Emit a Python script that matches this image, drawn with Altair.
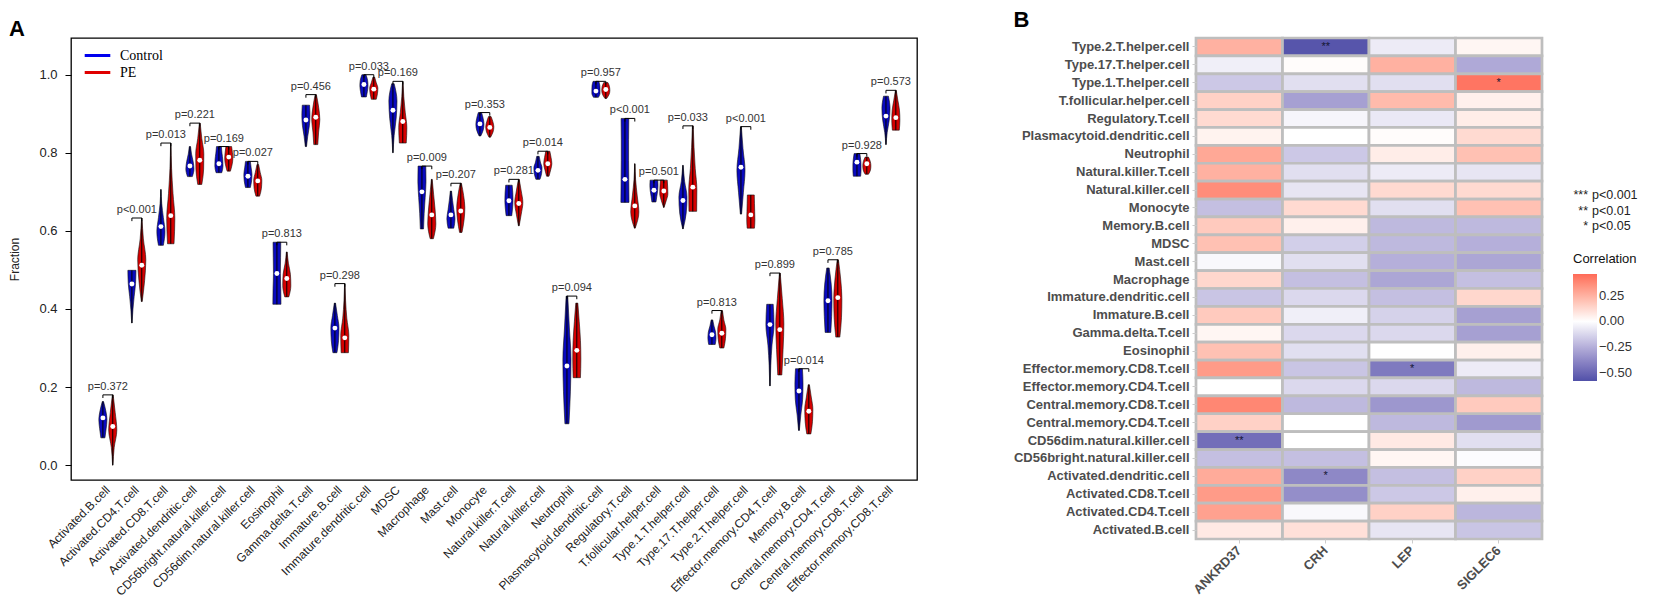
import altair as alt
import pandas as pd

# ---------------- Panel A data ----------------
cell_types = [
    "Activated.B.cell", "Activated.CD4.T.cell", "Activated.CD8.T.cell", "Activated.dendritic.cell",
    "CD56bright.natural.killer.cell", "CD56dim.natural.killer.cell", "Eosinophil", "Gamma.delta.T.cell",
    "Immature.B.cell", "Immature.dendritic.cell", "MDSC", "Macrophage", "Mast.cell", "Monocyte",
    "Natural.killer.T.cell", "Natural.killer.cell", "Neutrophil", "Plasmacytoid.dendritic.cell",
    "Regulatory.T.cell", "T.follicular.helper.cell", "Type.1.T.helper.cell", "Type.17.T.helper.cell",
    "Type.2.T.helper.cell", "Effector.memory.CD4.T.cell", "Memory.B.cell", "Central.memory.CD4.T.cell",
    "Central.memory.CD8.T.cell", "Effector.memory.CD8.T.cell",
]
groups = ["Control", "PE"]

ctrl_lo = [0.070, 0.364, 0.563, 0.739, 0.749, 0.711, 0.412, 0.816, 0.288, 0.943, 0.800, 0.605, 0.607, 0.843,
           0.639, 0.732, 0.106, 0.942, 0.673, 0.674, 0.605, 0.309, 0.643, 0.203, 0.089, 0.340, 0.740, 0.821]
ctrl_hi = [0.163, 0.499, 0.706, 0.816, 0.816, 0.778, 0.571, 0.922, 0.415, 1.000, 0.977, 0.766, 0.702, 0.903,
           0.717, 0.791, 0.433, 0.983, 0.888, 0.730, 0.768, 0.372, 0.867, 0.412, 0.247, 0.505, 0.798, 0.945]
ctrl_med = [0.121, 0.464, 0.611, 0.766, 0.772, 0.740, 0.491, 0.884, 0.351, 0.975, 0.909, 0.700, 0.641, 0.874,
            0.677, 0.755, 0.254, 0.958, 0.732, 0.704, 0.678, 0.334, 0.763, 0.360, 0.190, 0.421, 0.776, 0.894]
pe_lo = [0.000, 0.419, 0.567, 0.719, 0.753, 0.689, 0.431, 0.821, 0.288, 0.937, 0.825, 0.580, 0.596, 0.840,
         0.613, 0.740, 0.224, 0.939, 0.607, 0.660, 0.650, 0.300, 0.607, 0.231, 0.080, 0.328, 0.745, 0.858]
pe_hi = [0.180, 0.633, 0.825, 0.876, 0.816, 0.770, 0.546, 0.949, 0.465, 0.994, 0.983, 0.732, 0.722, 0.893,
         0.732, 0.804, 0.415, 0.980, 0.772, 0.730, 0.869, 0.396, 0.692, 0.492, 0.206, 0.526, 0.789, 0.960]
pe_med = [0.099, 0.512, 0.639, 0.781, 0.789, 0.728, 0.478, 0.891, 0.326, 0.963, 0.880, 0.641, 0.651, 0.865,
          0.670, 0.772, 0.294, 0.962, 0.664, 0.702, 0.712, 0.338, 0.641, 0.347, 0.138, 0.429, 0.772, 0.890]

# relative violin width at 0%, 25%, 50%, 75%, 100% of each violin's range
ctrl_shape = [
    [0.5, 0.8, 1.0, 0.7, 0.15], [0.05, 0.25, 0.55, 0.9, 1.0], [0.6, 1.0, 0.6, 0.2, 0.05], [0.6, 1.0, 0.8, 0.4, 0.15],
    [0.7, 1.0, 0.95, 0.75, 0.6], [0.6, 0.9, 1.0, 0.8, 0.6], [1.0, 0.95, 0.85, 0.9, 0.95], [0.15, 0.45, 0.85, 1.0, 0.9],
    [0.5, 0.9, 1.0, 0.6, 0.15], [0.6, 0.85, 1.0, 0.9, 0.5], [0.05, 0.3, 0.8, 1.0, 0.3], [0.4, 0.55, 0.8, 1.0, 0.95],
    [0.7, 1.0, 0.7, 0.4, 0.15], [0.2, 0.8, 1.0, 0.8, 0.4], [0.7, 0.9, 1.0, 0.95, 0.8], [0.5, 0.9, 1.0, 0.6, 0.3],
    [0.5, 0.85, 1.0, 0.6, 0.2], [0.6, 1.0, 1.0, 0.95, 0.7], [1.0, 0.95, 0.9, 0.9, 0.95], [0.5, 0.7, 0.9, 1.0, 0.95],
    [0.05, 0.8, 1.0, 0.4, 0.05], [0.8, 1.0, 0.9, 0.5, 0.2], [0.15, 0.6, 1.0, 0.5, 0.1], [0.05, 0.2, 0.5, 1.0, 0.8],
    [0.1, 0.45, 0.9, 1.0, 0.85], [0.7, 0.9, 1.0, 0.8, 0.3], [0.9, 1.0, 1.0, 0.9, 0.7], [0.05, 0.3, 0.8, 1.0, 0.6],
]
pe_shape = [
    [0.05, 0.35, 1.0, 0.6, 0.1], [0.1, 0.7, 1.0, 0.4, 0.05], [0.8, 1.0, 0.55, 0.2, 0.05], [0.5, 0.95, 1.0, 0.5, 0.1],
    [0.4, 0.8, 1.0, 0.9, 0.7], [0.45, 0.9, 1.0, 0.6, 0.2], [0.5, 1.0, 0.9, 0.4, 0.1], [0.5, 0.7, 1.0, 0.7, 0.15],
    [0.9, 1.0, 0.5, 0.2, 0.05], [0.6, 0.9, 1.0, 0.6, 0.2], [0.85, 1.0, 0.6, 0.25, 0.05], [0.4, 1.0, 0.8, 0.45, 0.1],
    [0.3, 0.8, 1.0, 0.7, 0.15], [0.2, 0.8, 1.0, 0.75, 0.3], [0.1, 0.6, 1.0, 0.6, 0.1], [0.3, 0.7, 1.0, 0.8, 0.5],
    [0.9, 1.0, 0.9, 0.6, 0.25], [0.2, 0.8, 1.0, 0.9, 0.5], [0.1, 1.0, 0.6, 0.2, 0.05], [0.05, 0.6, 1.0, 0.95, 0.85],
    [0.95, 1.0, 0.6, 0.3, 0.1], [0.5, 0.9, 1.0, 0.5, 0.15], [0.9, 1.0, 0.95, 0.9, 0.85], [0.5, 0.8, 1.0, 0.6, 0.1],
    [0.5, 0.9, 1.0, 0.6, 0.15], [0.5, 0.9, 1.0, 0.7, 0.15], [0.4, 0.9, 1.0, 0.85, 0.4], [0.85, 1.0, 0.9, 0.5, 0.1],
]
pvals = ["p=0.372", "p<0.001", "p=0.013", "p=0.221", "p=0.169", "p=0.027", "p=0.813", "p=0.456", "p=0.298",
         "p=0.033", "p=0.169", "p=0.009", "p=0.207", "p=0.353", "p=0.281", "p=0.014", "p=0.094", "p=0.957",
         "p<0.001", "p=0.501", "p=0.033", "p=0.813", "p<0.001", "p=0.899", "p=0.014", "p=0.785", "p=0.928",
         "p=0.573"]

# ---------------- Panel B data ----------------
heat_rows = [
    "Type.2.T.helper.cell", "Type.17.T.helper.cell", "Type.1.T.helper.cell", "T.follicular.helper.cell",
    "Regulatory.T.cell", "Plasmacytoid.dendritic.cell", "Neutrophil", "Natural.killer.T.cell",
    "Natural.killer.cell", "Monocyte", "Memory.B.cell", "MDSC", "Mast.cell", "Macrophage",
    "Immature.dendritic.cell", "Immature.B.cell", "Gamma.delta.T.cell", "Eosinophil",
    "Effector.memory.CD8.T.cell", "Effector.memory.CD4.T.cell", "Central.memory.CD8.T.cell",
    "Central.memory.CD4.T.cell", "CD56dim.natural.killer.cell", "CD56bright.natural.killer.cell",
    "Activated.dendritic.cell", "Activated.CD8.T.cell", "Activated.CD4.T.cell", "Activated.B.cell",
]
genes = ["ANKRD37", "CRH", "LEP", "SIGLEC6"]
r_ANKRD37 = [0.25, -0.05, -0.17, 0.15, 0.12, 0.04, 0.28, 0.25, 0.36, -0.20, 0.17, 0.20, -0.02, 0.13,
             -0.18, 0.17, 0.03, 0.20, 0.32, 0.00, 0.38, 0.15, -0.47, -0.20, 0.27, 0.32, 0.30, 0.07]
r_CRH = [-0.56, 0.01, -0.10, -0.30, -0.03, 0.00, -0.17, -0.10, -0.08, 0.12, 0.05, -0.15, -0.10, -0.20,
         -0.12, -0.05, -0.12, -0.10, -0.18, -0.12, -0.22, 0.00, 0.00, -0.20, -0.38, -0.36, -0.02, 0.10]
r_LEP = [-0.06, 0.25, -0.10, 0.22, -0.07, 0.01, 0.06, -0.06, 0.12, -0.10, -0.22, -0.22, -0.25, -0.28,
         -0.20, -0.14, -0.12, 0.00, -0.43, -0.12, -0.33, -0.22, 0.07, 0.03, -0.20, -0.17, 0.15, -0.08]
r_SIGLEC6 = [0.03, -0.27, 0.43, 0.05, 0.06, 0.12, 0.20, -0.08, 0.12, 0.20, -0.22, -0.25, -0.28, -0.20,
             0.13, -0.30, -0.30, 0.05, -0.06, -0.22, 0.17, -0.32, -0.10, -0.01, 0.15, 0.05, -0.23, -0.18]
sig_cells = ["Type.2.T.helper.cell", "Type.1.T.helper.cell", "Effector.memory.CD8.T.cell",
             "CD56dim.natural.killer.cell", "Activated.dendritic.cell"]
sig_genes = ["CRH", "SIGLEC6", "LEP", "ANKRD37", "CRH"]
sig_marks = ["**", "*", "*", "**", "*"]
sig_key_stars = ["***", "**", "*"]
sig_key_text = ["p<0.001", "p<0.01", "p<0.05"]

# ---------------- tables ----------------
levels = [0.0, 0.25, 0.5, 0.75, 1.0]
vrows, srows, brows = [], [], []
for i, ct in enumerate(cell_types):
    for g, lo, hi, med, shp in (("Control", ctrl_lo[i], ctrl_hi[i], ctrl_med[i], ctrl_shape[i]),
                                ("PE", pe_lo[i], pe_hi[i], pe_med[i], pe_shape[i])):
        for k, (f, w) in enumerate(zip(levels, shp)):
            vrows.append(dict(vid=f"{ct}|{g}", idx=i, group=g, k=k, y=lo + f * (hi - lo), w=w))
        srows.append(dict(idx=i, group=g, lo=lo, hi=hi, med=med))
    brows.append(dict(idx=i, top=max(ctrl_hi[i], pe_hi[i]), p=pvals[i]))
violin_df = pd.DataFrame(vrows)
summ_df = pd.DataFrame(srows)
brk_df = pd.DataFrame(brows)
lab_df = pd.DataFrame({"idx": list(range(len(cell_types))), "name": cell_types})

hrows = []
for gname, vals in zip(genes, [r_ANKRD37, r_CRH, r_LEP, r_SIGLEC6]):
    for cell, v in zip(heat_rows, vals):
        s = ""
        for sc, sg, sm in zip(sig_cells, sig_genes, sig_marks):
            if sc == cell and sg == gname:
                s = sm
        hrows.append(dict(cell=cell, gene=gname, r=v, sig=s))
heat_df = pd.DataFrame(hrows)

# ---------------- Panel A ----------------
A_W, A_H = 846, 442
OFF = 0.17
HW = 0.14
center_expr = f"datum.idx + (datum.group == 'Control' ? {-OFF} : {OFF})"
xscale = alt.Scale(domain=[-1.27, 27.9], nice=False, zero=False)
yscale = alt.Scale(domain=[-0.038, 1.094], nice=False, zero=False)
xaxis = alt.Axis(labels=False, ticks=False, domain=False, grid=False, title=None)
yaxis = alt.Axis(values=[0, 0.2, 0.4, 0.6, 0.8, 1.0], format=".1f", title="Fraction", grid=False,
                 domain=False, tickSize=6, tickColor="black", labelFontSize=13, labelColor="#222222",
                 labelPadding=8, titleFontSize=12, titleFontWeight="normal", titlePadding=17,
                 titleColor="#222222")
fill_scale = alt.Scale(domain=groups, range=["#0A0ABF", "#D40000"])

violins = alt.Chart(violin_df).transform_calculate(
    cx=center_expr,
).transform_calculate(
    xa=f"datum.cx - {HW} * datum.w", xb=f"datum.cx + {HW} * datum.w"
).mark_area(orient="horizontal", interpolate="monotone", stroke="#111111", strokeWidth=0.6,
            opacity=1).encode(
    y=alt.Y("y:Q", scale=yscale, axis=yaxis),
    x=alt.X("xa:Q", scale=xscale, axis=xaxis, stack=None),
    x2="xb:Q",
    fill=alt.Fill("group:N", scale=fill_scale, legend=None),
    detail="vid:N",
)

center_line = alt.Chart(summ_df).transform_calculate(cx=center_expr).mark_rule(
    color="black", strokeWidth=1).encode(x="cx:Q", y="lo:Q", y2="hi:Q")
medians = alt.Chart(summ_df).transform_calculate(cx=center_expr).mark_circle(
    color="white", opacity=1, size=24).encode(x="cx:Q", y="med:Q")

brk = alt.Chart(brk_df).transform_calculate(
    xl=f"datum.idx - {OFF}", xr=f"datum.idx + {OFF}", tb="datum.top - 0.008")
brk_h = brk.mark_rule(color="black", strokeWidth=1).encode(x="xl:Q", x2="xr:Q", y="top:Q")
brk_l = brk.mark_rule(color="black", strokeWidth=1).encode(x="xl:Q", y="top:Q", y2="tb:Q")
brk_r = brk.mark_rule(color="black", strokeWidth=1).encode(x="xr:Q", y="top:Q", y2="tb:Q")
ptext = brk.mark_text(fontSize=11, baseline="bottom", dy=-3, color="#333333").encode(
    x="idx:Q", y="top:Q", text="p:N")

# category labels under the box (rotated 45 degrees)
xlabels = alt.Chart(lab_df).mark_text(angle=315, align="right", baseline="middle", fontSize=12,
                                      color="#222222").encode(
    x="idx:Q", y=alt.value(A_H + 8), text="name:N")

legend_dummy = alt.Chart(pd.DataFrame({"group": groups})).transform_filter("false").mark_rule().encode(
    stroke=alt.Stroke("group:N", scale=alt.Scale(domain=groups, range=["#0000EE", "#E00000"]),
                      legend=alt.Legend(title=None, orient="none", legendX=17, legendY=8,
                                        symbolType="M-1.6,0H1.6", symbolSize=256, symbolStrokeWidth=3,
                                        labelFont="Liberation Serif", labelFontSize=14, labelColor="black",
                                        rowPadding=0, labelOffset=13, padding=0)),
)

panel_a = alt.layer(violins, center_line, brk_h, brk_l, brk_r, medians, ptext, xlabels,
                    legend_dummy).properties(
    width=A_W, height=A_H,
    view=alt.ViewBackground(stroke="black", strokeWidth=1.3),
    title=alt.TitleParams("A", anchor="start", frame="bounds", fontSize=22, fontWeight="bold",
                          color="black", offset=-3),
)

# ---------------- Panel B ----------------
lab_color = "#4D4D4D"
rect = alt.Chart(heat_df).mark_rect(stroke="#BEBEBE", strokeWidth=2.7).encode(
    x=alt.X("gene:N", sort=genes, scale=alt.Scale(paddingInner=0, paddingOuter=0),
            axis=alt.Axis(title=None, labelAngle=-45, labelAlign="right", labelBaseline="middle",
                          labelFontWeight="bold", labelFontSize=13, labelColor=lab_color, domain=False,
                          tickSize=4, tickColor="#CCCCCC", labelPadding=5)),
    y=alt.Y("cell:N", sort=heat_rows, scale=alt.Scale(paddingInner=0, paddingOuter=0),
            axis=alt.Axis(title=None, labelFontWeight="bold", labelFontSize=13, labelColor=lab_color,
                          domain=False, tickSize=4, tickColor="#CCCCCC", labelPadding=3)),
    fill=alt.Fill("r:Q", scale=alt.Scale(domain=[-0.58, 0, 0.46],
                                         range=["#5050A8", "#FFFFFF", "#FF6A58"], interpolate="lab"),
                  legend=alt.Legend(title="Correlation", orient="none", legendX=377, legendY=215,
                                    values=[0.25, 0, -0.25, -0.5], format=".2f", gradientLength=107,
                                    gradientThickness=24, labelFontSize=13, labelColor="#333333",
                                    titleFontSize=13, titleFontWeight="normal", titleColor="#111111",
                                    gradientStrokeWidth=0, titlePadding=8)),
)
stars = alt.Chart(heat_df).transform_filter("datum.sig != ''").mark_text(
    fontSize=11, color="#151535", baseline="middle").encode(
    x=alt.X("gene:N", sort=genes), y=alt.Y("cell:N", sort=heat_rows), text="sig:N")

key_df = pd.DataFrame({"stars": ["\n".join(sig_key_stars)], "desc": ["\n".join(sig_key_text)]})
key_stars = alt.Chart(key_df).transform_calculate(s="split(datum.stars, '\\n')").mark_text(
    align="right", baseline="top", fontSize=12.5, lineHeight=15.5, color="#222222").encode(
    x=alt.value(392), y=alt.value(151), text="s:N")
key_text = alt.Chart(key_df).transform_calculate(s="split(datum.desc, '\\n')").mark_text(
    align="left", baseline="top", fontSize=12.5, lineHeight=15.5, color="#222222").encode(
    x=alt.value(396), y=alt.value(151), text="s:N")

panel_b = alt.layer(rect, stars, key_stars, key_text).properties(
    width=346, height=501,
    title=alt.TitleParams("B", anchor="start", frame="bounds", fontSize=22, fontWeight="bold",
                          color="black", offset=5),
)

chart = alt.hconcat(panel_a, panel_b, spacing=95).properties(
    padding={"left": 0, "top": 0, "right": 0, "bottom": 0}
).configure(font="Liberation Sans").configure_view(stroke=None)

chart.save("out.html", embed_options={"renderer": "svg", "actions": False})
